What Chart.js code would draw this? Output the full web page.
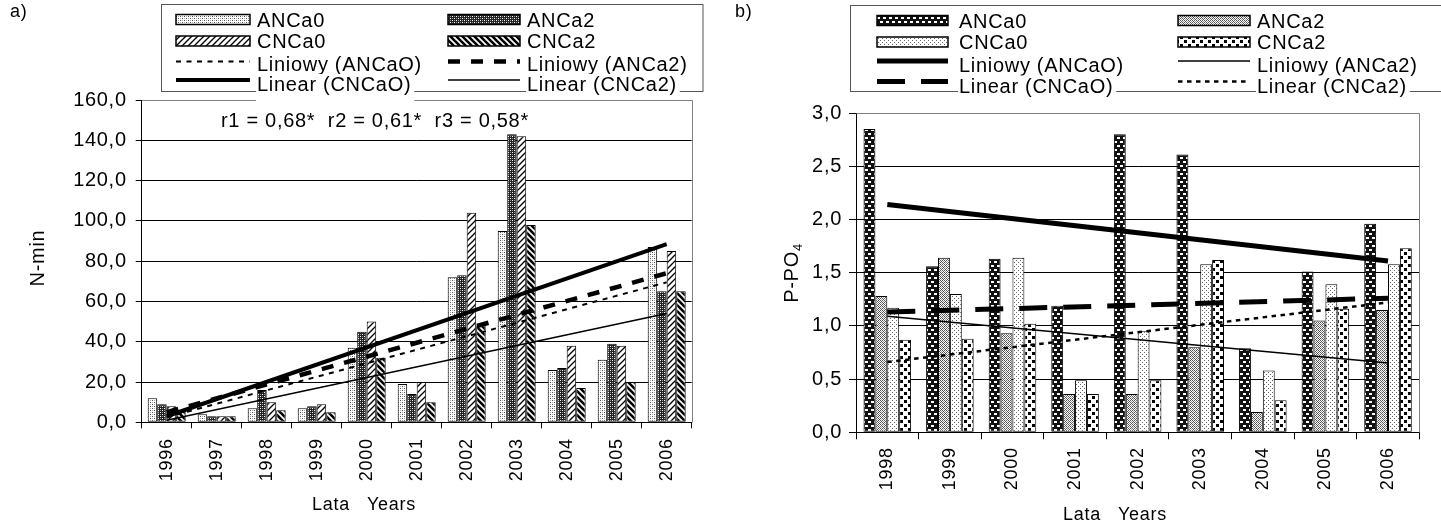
<!DOCTYPE html>
<html><head><meta charset="utf-8">
<script src="https://cdn.jsdelivr.net/npm/chart.js@4.4.1/dist/chart.umd.min.js"></script>
<style>
html,body{margin:0;padding:0;background:#fff;}
#wrap{position:relative;width:1441px;height:525px;overflow:hidden;background:#fff;}
canvas{position:absolute;top:0;}
</style></head><body>
<div id="wrap">
<canvas id="c1" width="720" height="525" style="left:0"></canvas>
<canvas id="c2" width="721" height="525" style="left:720px"></canvas>
</div>
<script>
const FONT = '"Liberation Sans", Arial, sans-serif';
const SPACING = '0.7px';

// ---------- data: chart a) N-min ----------
const yearsA = ['1996','1997','1998','1999','2000','2001','2002','2003','2004','2005','2006'];
const nANCa0 = [12, 4, 7, 7, 37, 19, 72, 95, 26, 31, 87];
const nANCa2 = [9, 3, 16, 8, 45, 14, 73, 143, 27, 39, 65];
const nCNCa0 = [8, 3, 10, 9, 50, 20, 104, 142, 38, 38, 85];
const nCNCa2 = [6, 3, 6, 5, 32, 10, 48, 98, 17, 20, 65];
// trend lines (start / end values)
const nTrendANCa0 = [2.5, null, null, null, null, null, null, null, null, null, 69.5];
const nTrendANCa2 = [5, null, null, null, null, null, null, null, null, null, 74];
const nTrendCNCa0 = [3, null, null, null, null, null, null, null, null, null, 88.5];
const nTrendCNCa2 = [1, null, null, null, null, null, null, null, null, null, 54];
const yTicksA = [0, 20, 40, 60, 80, 100, 120, 140, 160];

// ---------- data: chart b) P-PO4 ----------
const yearsB = ['1998','1999','2000','2001','2002','2003','2004','2005','2006'];
const pANCa0 = [2.85, 1.56, 1.63, 1.19, 2.80, 2.61, 0.79, 1.51, 1.96];
const pANCa2 = [1.28, 1.64, 0.93, 0.36, 0.36, 0.80, 0.19, 1.05, 1.15];
const pCNCa0 = [1.17, 1.30, 1.64, 0.49, 0.95, 1.58, 0.58, 1.39, 1.58];
const pCNCa2 = [0.87, 0.88, 1.02, 0.36, 0.49, 1.62, 0.30, 1.16, 1.73];
const pTrendANCa0 = [2.14, null, null, null, null, null, null, null, 1.61];
const pTrendCNCa0 = [1.13, null, null, null, null, null, null, null, 1.26];
const pTrendANCa2 = [1.09, null, null, null, null, null, null, null, 0.65];
const pTrendCNCa2 = [0.66, null, null, null, null, null, null, null, 1.22];
const yTicksB = [0, 0.5, 1.0, 1.5, 2.0, 2.5, 3.0];

// ---------- patterns ----------
function pat(ctx, w, h, draw) {
  const c = document.createElement('canvas'); c.width = w; c.height = h;
  const g = c.getContext('2d'); draw(g, w, h);
  return ctx.createPattern(c, 'repeat');
}
function patternsA(ctx) {
  return {
    A0: pat(ctx, 4, 4, g => { g.fillStyle='#fff'; g.fillRect(0,0,4,4); g.fillStyle='#555'; g.fillRect(0,0,1,1); g.fillRect(2,2,1,1); g.fillStyle='#aaa'; g.fillRect(2,0,1,1); g.fillRect(0,2,1,1); }),
    A2: pat(ctx, 4, 4, g => { g.fillStyle='#222'; g.fillRect(0,0,4,4); g.fillStyle='#fff'; g.fillRect(0,0,1,1); g.fillRect(2,2,1,1); g.fillStyle='#999'; g.fillRect(2,0,1,1); g.fillRect(0,2,1,1); }),
    C0: pat(ctx, 6, 6, g => { g.fillStyle='#fff'; g.fillRect(0,0,6,6); g.strokeStyle='#000'; g.lineWidth=1.3;
      for (const o of [-6,0,6]) { g.beginPath(); g.moveTo(-1+o,7); g.lineTo(7+o,-1); g.stroke(); } }),
    C2: pat(ctx, 6, 6, g => { g.fillStyle='#fff'; g.fillRect(0,0,6,6); g.strokeStyle='#000'; g.lineWidth=2.6;
      for (const o of [-6,0,6]) { g.beginPath(); g.moveTo(-1+o,-1); g.lineTo(7+o,7); g.stroke(); } })
  };
}
function patternsB(ctx) {
  return {
    A0: pat(ctx, 6, 8, g => { g.fillStyle='#111'; g.fillRect(0,0,6,8); g.fillStyle='#fff'; g.fillRect(1,1,3,2); g.fillRect(4,5,2,2); g.fillRect(0,5,1,2); }),
    A2: pat(ctx, 4, 4, g => { g.fillStyle='#fff'; g.fillRect(0,0,4,4); g.fillStyle='#555'; g.fillRect(0,0,1,1); g.fillRect(1,1,1,1); g.fillRect(2,2,1,1); g.fillRect(3,3,1,1); g.fillRect(2,0,1,1); g.fillRect(0,2,1,1); g.fillStyle='#999'; g.fillRect(3,1,1,1); g.fillRect(1,3,1,1); }),
    C0: pat(ctx, 4, 4, g => { g.fillStyle='#fff'; g.fillRect(0,0,4,4); g.fillStyle='#666'; g.fillRect(0,0,1,1); g.fillRect(2,2,1,1); }),
    C2: pat(ctx, 8, 8, g => { g.fillStyle='#fff'; g.fillRect(0,0,8,8); g.fillStyle='#000'; g.fillRect(0,0,3,3); g.fillRect(4,4,3,3); })
  };
}

// ---------- drawing helpers ----------
function drawLegend(ctx, L) {
  ctx.save();
  ctx.fillStyle = '#fff';
  ctx.fillRect(L.box.x, L.box.y, L.box.w, L.box.h);
  ctx.strokeStyle = '#555'; ctx.lineWidth = 1;
  ctx.strokeRect(L.box.x, L.box.y, L.box.w, L.box.h);
  ctx.font = '20px ' + FONT; ctx.textBaseline = 'alphabetic'; ctx.textAlign = 'left';
  L.items.forEach(it => {
    const sx = L.cols[it.col].sx, sw = L.cols[it.col].sw, tx = L.cols[it.col].tx;
    const sy = L.symY[it.row], ty = L.textY[it.row];
    if (it.bg) {
      const w = ctx.measureText(it.label).width;
      ctx.fillStyle = '#fff'; ctx.fillRect(tx - 1, ty - 17, w + 4, it.bg);
    }
    if (it.kind === 'box') {
      ctx.fillStyle = it.fill; ctx.fillRect(sx, sy - 5, sw, 10);
      ctx.strokeStyle = '#000'; ctx.lineWidth = 1.5; ctx.strokeRect(sx, sy - 5, sw, 10);
    } else {
      ctx.strokeStyle = '#000'; ctx.lineWidth = it.width; ctx.setLineDash(it.dash || []);
      ctx.lineCap = 'butt';
      ctx.beginPath(); ctx.moveTo(sx, sy); ctx.lineTo(sx + sw, sy); ctx.stroke();
      ctx.setLineDash([]);
    }
    ctx.fillStyle = '#000';
    ctx.fillText(it.label, tx, ty);
  });
  ctx.restore();
}
function drawFrame(chart) {
  const {ctx, chartArea: a} = chart;
  ctx.save();
  ctx.strokeStyle = '#808080'; ctx.lineWidth = 1;
  ctx.beginPath();
  ctx.moveTo(Math.round(a.left) + 0.5, Math.round(a.top) + 0.5);
  ctx.lineTo(Math.round(a.right) + 0.5, Math.round(a.top) + 0.5);
  ctx.lineTo(Math.round(a.right) + 0.5, Math.round(a.bottom) + 0.5);
  ctx.stroke();
  ctx.restore();
}
function fmt(v) { return v.toFixed(1).replace('.', ','); }
const spacingPlugin = {
  id: 'spacing',
  beforeDraw(chart) { chart.ctx.letterSpacing = SPACING; }
};

// ---------- chart a) ----------
(function () {
  const cv = document.getElementById('c1');
  const ctx = cv.getContext('2d');
  const P = patternsA(ctx);
  const bar = (label, data, fill) => ({ type: 'bar', label, data, backgroundColor: fill, borderColor: '#000',
    borderWidth: 1, borderSkipped: false, categoryPercentage: 0.76, barPercentage: 1, order: 1 });
  const line = (label, data, width, dash) => ({ type: 'line', label, data, borderColor: '#000', borderWidth: width,
    borderDash: dash, pointRadius: 0, spanGaps: true, fill: false, tension: 0, order: 0, borderCapStyle: 'butt' });
  const legend = {
    box: { x: 161.5, y: 4.5, w: 541.5, h: 87 },
    cols: [{ sx: 176, sw: 74, tx: 257 }, { sx: 448, sw: 72, tx: 527 }],
    symY: [19.5, 41, 61.5, 80], textY: [26.5, 48, 71, 91],
    items: [
      { col: 0, row: 0, kind: 'box', fill: P.A0, label: 'ANCa0' },
      { col: 1, row: 0, kind: 'box', fill: P.A2, label: 'ANCa2' },
      { col: 0, row: 1, kind: 'box', fill: P.C0, label: 'CNCa0' },
      { col: 1, row: 1, kind: 'box', fill: P.C2, label: 'CNCa2' },
      { col: 0, row: 2, kind: 'line', width: 2, dash: [5, 5.5], label: 'Liniowy (ANCaO)' },
      { col: 1, row: 2, kind: 'line', width: 4.5, dash: [12, 11], label: 'Liniowy (ANCa2)' },
      { col: 0, row: 3, kind: 'line', width: 4, dash: [], label: 'Linear (CNCaO)', bg: 27 },
      { col: 1, row: 3, kind: 'line', width: 1.5, dash: [], label: 'Linear (CNCa2)', bg: 23 }
    ]
  };
  const deco = {
    id: 'decoA',
    afterDraw(chart) {
      drawFrame(chart);
      const c = chart.ctx;
      drawLegend(c, legend);
      c.save();
      c.fillStyle = '#000'; c.font = '18px ' + FONT; c.textAlign = 'left'; c.textBaseline = 'alphabetic';
      c.fillText('a)', 10, 17);
      c.font = '20px ' + FONT;
      c.fillText('r1 = 0,68*  r2 = 0,61*  r3 = 0,58*', 221, 127);
      c.font = '18px ' + FONT; c.textAlign = 'center'; c.textBaseline = 'middle';
      c.fillText('Lata   Years', 364, 505);
      c.translate(38, 258); c.rotate(-Math.PI / 2);
      c.font = '20px ' + FONT;
      c.fillText('N-min', 0, 0);
      c.restore();
    }
  };
  new Chart(ctx, {
    data: {
      labels: yearsA,
      datasets: [
        bar('ANCa0', nANCa0, P.A0), bar('ANCa2', nANCa2, P.A2),
        bar('CNCa0', nCNCa0, P.C0), bar('CNCa2', nCNCa2, P.C2),
        line('Liniowy (ANCaO)', nTrendANCa0, 2, [5, 5.5]),
        line('Liniowy (ANCa2)', nTrendANCa2, 4.5, [12, 11]),
        line('Linear (CNCaO)', nTrendCNCa0, 4, []),
        line('Linear (CNCa2)', nTrendCNCa2, 1.5, [])
      ]
    },
    options: {
      responsive: false, animation: false, events: [],
      layout: { padding: { left: 0, right: 720 - 691.7, top: 100, bottom: 0 } },
      plugins: { legend: { display: false }, tooltip: { enabled: false } },
      scales: {
        x: {
          type: 'category', offset: true,
          grid: { display: true, drawOnChartArea: false, drawTicks: true, tickLength: 6, color: '#000', offset: true },
          border: { display: true, color: '#000', width: 1 },
          ticks: { minRotation: 90, maxRotation: 90, autoSkip: false, padding: 10, color: '#000', font: { family: FONT, size: 18 } },
          afterFit(s) { s.height = 525 - 422.3; }
        },
        y: {
          min: 0, max: 160,
          afterBuildTicks(s) { s.ticks = yTicksA.map(v => ({ value: v })); },
          grid: { color: c => (c.tick && c.tick.value === 160) ? '#808080' : '#000', tickColor: '#000', tickLength: 6, lineWidth: 1 },
          border: { display: true, color: '#000', width: 1 },
          ticks: { padding: 9, color: '#000', font: { family: FONT, size: 20 }, callback: v => fmt(v) },
          afterFit(s) { s.width = 141.7; }
        }
      }
    },
    plugins: [spacingPlugin, deco]
  });
})();

// ---------- chart b) ----------
(function () {
  const cv = document.getElementById('c2');
  const ctx = cv.getContext('2d');
  const P = patternsB(ctx);
  const bar = (label, data, fill) => ({ type: 'bar', label, data, backgroundColor: fill, borderColor: '#000',
    borderWidth: 1, borderSkipped: false, categoryPercentage: 0.76, barPercentage: 1, order: 1 });
  const line = (label, data, width, dash) => ({ type: 'line', label, data, borderColor: '#000', borderWidth: width,
    borderDash: dash, pointRadius: 0, spanGaps: true, fill: false, tension: 0, order: 0, borderCapStyle: 'butt' });
  const legend = {
    box: { x: 130.5, y: 5.5, w: 620, h: 86 },
    cols: [{ sx: 157, sw: 71, tx: 239 }, { sx: 458, sw: 72, tx: 537 }],
    symY: [20.5, 42, 61, 81.5], textY: [27.5, 49, 71.5, 92.5],
    items: [
      { col: 0, row: 0, kind: 'box', fill: P.A0, label: 'ANCa0' },
      { col: 1, row: 0, kind: 'box', fill: P.A2, label: 'ANCa2' },
      { col: 0, row: 1, kind: 'box', fill: P.C0, label: 'CNCa0' },
      { col: 1, row: 1, kind: 'box', fill: P.C2, label: 'CNCa2' },
      { col: 0, row: 2, kind: 'line', width: 5, dash: [], label: 'Liniowy (ANCaO)' },
      { col: 1, row: 2, kind: 'line', width: 1.5, dash: [], label: 'Liniowy (ANCa2)' },
      { col: 0, row: 3, kind: 'line', width: 5, dash: [28, 16], label: 'Linear (CNCaO)', bg: 23 },
      { col: 1, row: 3, kind: 'line', width: 2.5, dash: [4.5, 4.5], label: 'Linear (CNCa2)', bg: 23 }
    ]
  };
  const deco = {
    id: 'decoB',
    afterDraw(chart) {
      drawFrame(chart);
      const c = chart.ctx;
      drawLegend(c, legend);
      c.save();
      c.fillStyle = '#000'; c.font = '18px ' + FONT; c.textAlign = 'left'; c.textBaseline = 'alphabetic';
      c.fillText('b)', 15, 17);
      c.font = '18px ' + FONT; c.textAlign = 'center'; c.textBaseline = 'middle';
      c.fillText('Lata   Years', 395, 515);
      c.translate(78, 273); c.rotate(-Math.PI / 2);
      c.textBaseline = 'alphabetic';
      c.font = '20px ' + FONT;
      const w1 = c.measureText('P-PO').width;
      c.font = '13px ' + FONT;
      const w2 = c.measureText('4').width;
      const x0 = -(w1 + w2) / 2;
      c.textAlign = 'left';
      c.font = '20px ' + FONT;
      c.fillText('P-PO', x0, 0);
      c.font = '13px ' + FONT;
      c.fillText('4', x0 + w1, 4);
      c.restore();
    }
  };
  new Chart(ctx, {
    data: {
      labels: yearsB,
      datasets: [
        bar('ANCa0', pANCa0, P.A0), bar('ANCa2', pANCa2, P.A2),
        bar('CNCa0', pCNCa0, P.C0), bar('CNCa2', pCNCa2, P.C2),
        line('Liniowy (ANCaO)', pTrendANCa0, 5, []),
        line('Linear (CNCaO)', pTrendCNCa0, 5, [28, 16]),
        line('Liniowy (ANCa2)', pTrendANCa2, 1.5, []),
        line('Linear (CNCa2)', pTrendCNCa2, 2.5, [4.5, 4.5])
      ]
    },
    options: {
      responsive: false, animation: false, events: [],
      layout: { padding: { left: 0, right: 721 - 699.3, top: 113, bottom: 0 } },
      plugins: { legend: { display: false }, tooltip: { enabled: false } },
      scales: {
        x: {
          type: 'category', offset: true,
          grid: { display: true, drawOnChartArea: false, drawTicks: true, tickLength: 7, color: '#000', offset: true },
          border: { display: true, color: '#000', width: 1 },
          ticks: { minRotation: 90, maxRotation: 90, autoSkip: false, padding: 8, color: '#000', font: { family: FONT, size: 18 } },
          afterFit(s) { s.height = 525 - 432.3; }
        },
        y: {
          min: 0, max: 3,
          afterBuildTicks(s) { s.ticks = yTicksB.map(v => ({ value: v })); },
          grid: { color: c => (c.tick && c.tick.value === 3) ? '#808080' : '#000', tickColor: '#000', tickLength: 7, lineWidth: 1 },
          border: { display: true, color: '#000', width: 1 },
          ticks: { padding: 7, color: '#000', font: { family: FONT, size: 20 }, callback: v => fmt(v) },
          afterFit(s) { s.width = 136; }
        }
      }
    },
    plugins: [spacingPlugin, deco]
  });
})();
</script>
</body></html>
